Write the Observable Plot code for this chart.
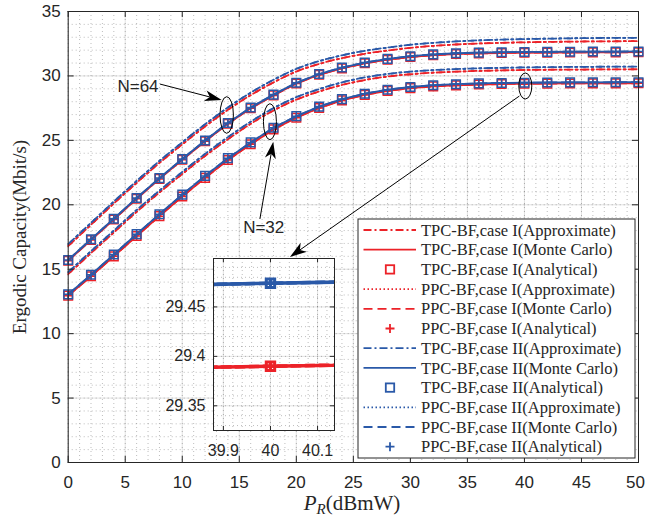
<!DOCTYPE html>
<html><head><meta charset="utf-8">
<script src="https://cdn.jsdelivr.net/npm/d3@7"></script>
<script src="https://cdn.jsdelivr.net/npm/@observablehq/plot@0.6"></script>
<style>
html,body{margin:0;padding:0;background:#fff;}
#chart{position:relative;width:645px;height:519px;}
#chart svg{overflow:visible;}
</style></head><body><div id="chart"></div>
<script>
// ---------------- data ----------------
const P_R = [0,2,4,6,8,10,12,14,16,18,20,22,24,26,28,30,32,34,36,38,40,42,44,46,48,50];

// N = 64, Monte Carlo / analytical
const mc64_caseII = [15.72,17.33,18.92,20.53,22.07,23.55,24.99,26.35,27.55,28.55,29.47,30.15,30.65,31.04,31.32,31.53,31.67,31.76,31.81,31.84,31.86,31.87,31.88,31.89,31.89,31.90];
const mc64_caseI  = [15.66,17.27,18.86,20.47,22.01,23.49,24.93,26.29,27.49,28.49,29.41,30.09,30.59,30.98,31.26,31.47,31.61,31.70,31.75,31.78,31.80,31.81,31.82,31.83,31.83,31.84];
// N = 32, Monte Carlo / analytical
const mc32_caseII = [13.05,14.57,16.14,17.72,19.27,20.79,22.24,23.62,24.84,25.98,26.88,27.62,28.20,28.62,28.93,29.14,29.28,29.36,29.42,29.455,29.474,29.49,29.50,29.505,29.51,29.515];
const mc32_caseI  = [12.95,14.45,16.00,17.58,19.12,20.64,22.09,23.47,24.70,25.85,26.76,27.51,28.10,28.53,28.84,29.05,29.19,29.27,29.33,29.374,29.39,29.406,29.415,29.42,29.425,29.43];
// approximations
const ap64_caseII = [16.95,18.60,20.25,21.85,23.40,24.85,26.25,27.55,28.70,29.70,30.55,31.15,31.60,31.95,32.20,32.42,32.57,32.68,32.76,32.82,32.86,32.89,32.92,32.94,32.95,32.96];
const ap64_caseI  = [16.80,18.45,20.10,21.70,23.25,24.69,26.08,27.37,28.51,29.50,30.34,30.93,31.38,31.72,31.97,32.18,32.33,32.44,32.52,32.57,32.61,32.64,32.66,32.68,32.69,32.70];
const ap32_caseII = [14.77,16.40,18.00,19.60,21.10,22.55,23.95,25.25,26.45,27.50,28.35,28.98,29.50,29.88,30.15,30.33,30.45,30.53,30.59,30.63,30.66,30.68,30.70,30.71,30.72,30.73];
const ap32_caseI  = [14.62,16.25,17.85,19.45,20.95,22.39,23.79,25.08,26.28,27.32,28.16,28.79,29.30,29.68,29.95,30.13,30.25,30.33,30.39,30.43,30.46,30.48,30.49,30.50,30.51,30.52];

const legendLabels = [
  "TPC-BF,case I(Approximate)","TPC-BF,case I(Monte Carlo)","TPC-BF,case I(Analytical)",
  "PPC-BF,case I(Approximate)","PPC-BF,case I(Monte Carlo)","PPC-BF,case I(Analytical)",
  "TPC-BF,case II(Approximate)","TPC-BF,case II(Monte Carlo)","TPC-BF,case II(Analytical)",
  "PPC-BF,case II(Approximate)","PPC-BF,case II(Monte Carlo)","PPC-BF,case II(Analytical)"
];
const xTicks = [0,5,10,15,20,25,30,35,40,45,50];
const yTicks = [0,5,10,15,20,25,30,35];
const xMinor = [0,1,2,3,4,5,6,7,8,9,10,11,12,13,14,15,16,17,18,19,20,21,22,23,24,25,26,27,28,29,30,31,32,33,34,35,36,37,38,39,40,41,42,43,44,45,46,47,48,49,50];
const yMinor = [0,1,2,3,4,5,6,7,8,9,10,11,12,13,14,15,16,17,18,19,20,21,22,23,24,25,26,27,28,29,30,31,32,33,34,35];
const insetXTicks = [39.9,40,40.1];
const insetYTicks = [29.35,29.4,29.45];
const insetXMinor = [39.88,39.9,39.92,39.94,39.96,39.98,40,40.02,40.04,40.06,40.08,40.1,40.12];
const insetYMinor = [29.33,29.34,29.35,29.36,29.37,29.38,29.39,29.4,29.41,29.42,29.43,29.44,29.45,29.46,29.47,29.48,29.49];
const xLabelText = ["P","R","(dBmW)"];
const yLabelText = "Ergodic Capacity(Mbit/s)";
const noteLabels = [{text:"N=64", x:6.12, y:29.18},{text:"N=32", x:17.14, y:18.24}];
const noteEllipses = [{x:13.94,y:26.93,rx:6.7,ry:18.3},{x:17.73,y:26.41,rx:6.5,ry:18},{x:40.12,y:29.18,rx:6.5,ry:13}];
const noteArrows = [{x1:8.09,y1:29.33,x2:13.5,y2:28.09},{x1:16.85,y1:18.86,x2:18.02,y2:24.86},{x1:39.6,y1:28.4,x2:19.48,y2:15.91}];

// ---------------- styles ----------------
const RED = "#ec2228", BLUE = "#2a59a8", INK = "#262626";
const DASHDOT = "8,3,2,3", DOTTED_PLOT = "2,6,2,6", DOTTED_LEGEND = "1.5,2.5", DASHED = "9,5";
const SANS = "'Liberation Sans', Arial, Helvetica, sans-serif";
const SERIF = "'Liberation Serif', 'Times New Roman', serif";

const SQ = {draw(ctx, size){ const r = Math.sqrt(size/Math.PI); ctx.moveTo(-r,-r); ctx.lineTo(r,-r); ctx.lineTo(r,r); ctx.lineTo(-r,r); ctx.closePath(); }};
const PLUS = {draw(ctx, size){ const r = Math.sqrt(size/Math.PI); ctx.moveTo(-r,0); ctx.lineTo(r,0); ctx.moveTo(0,-r); ctx.lineTo(0,r); }};

const series = [
  {color:RED, type:"line", dash:DASHDOT, smooth:true, curves:[ap64_caseI, ap32_caseI]},
  {color:RED, type:"line", dash:null, curves:[mc64_caseI, mc32_caseI]},
  {color:RED, type:"square", curves:[mc64_caseI, mc32_caseI]},
  {color:RED, type:"line", dash:DOTTED_PLOT, legendDash:DOTTED_LEGEND, offset:-3, smooth:true, curves:[ap64_caseI, ap32_caseI]},
  {color:RED, type:"line", dash:DASHED, curves:[mc64_caseI, mc32_caseI]},
  {color:RED, type:"plus", curves:[mc64_caseI, mc32_caseI]},
  {color:BLUE, type:"line", dash:DASHDOT, smooth:true, curves:[ap64_caseII, ap32_caseII]},
  {color:BLUE, type:"line", dash:null, curves:[mc64_caseII, mc32_caseII]},
  {color:BLUE, type:"square", curves:[mc64_caseII, mc32_caseII]},
  {color:BLUE, type:"line", dash:DOTTED_PLOT, legendDash:DOTTED_LEGEND, offset:-3, smooth:true, curves:[ap64_caseII, ap32_caseII]},
  {color:BLUE, type:"line", dash:DASHED, curves:[mc64_caseII, mc32_caseII]},
  {color:BLUE, type:"plus", curves:[mc64_caseII, mc32_caseII]}
].map((s,i)=>({...s, label: legendLabels[i]}));

function seriesMarks(s, o){
  const out = [];
  for (const ys of s.curves){
    const rows = P_R.map((x,i)=>({x, y: ys[i]}));
    if (s.type === "line"){
      out.push(Plot.line(rows, {x:"x", y:"y", stroke:s.color, strokeWidth:o.lw,
        strokeDasharray:s.dash || undefined, strokeDashoffset: s.offset || undefined,
        curve: s.smooth ? "monotone-x" : "linear", clip:o.clip}));
    } else {
      out.push(Plot.dot(rows, {x:"x", y:"y", r:o.r, symbol: s.type === "square" ? SQ : PLUS,
        stroke:s.color, strokeWidth:o.msw, fill:"none", clip:o.clip}));
    }
  }
  return out;
}

// ---------------- main plot ----------------
const W = 645, H = 519, mL = 67.7, mR = 7, mT = 11, mB = 57;
const innerW = W - mL - mR, innerH = H - mT - mB;

const main = Plot.plot({
  width: W, height: H, marginLeft: mL, marginRight: mR, marginTop: mT, marginBottom: mB,
  x: {domain:[0,50]}, y: {domain:[0,35]},
  style: {fontFamily: SANS, fontSize: "17px", color: INK, background: "white", overflow: "visible"},
  marks: [
    Plot.gridX({ticks:xMinor, stroke:INK, strokeOpacity:0.3, strokeDasharray:"1,3"}),
    Plot.gridY({ticks:yMinor, stroke:INK, strokeOpacity:0.3, strokeDasharray:"1,3"}),
    Plot.gridX({ticks:xTicks, stroke:INK, strokeOpacity:0.13}),
    Plot.gridY({ticks:yTicks, stroke:INK, strokeOpacity:0.13}),
    ...series.flatMap(s => seriesMarks(s, {lw:1.8, r:4.3, msw:1.5, clip:false})),
    Plot.tickX(xTicks, {x:d=>d, stroke:INK, insetTop: innerH - 6}),
    Plot.tickX(xTicks, {x:d=>d, stroke:INK, insetBottom: innerH - 6}),
    Plot.tickY(yTicks, {y:d=>d, stroke:INK, insetRight: innerW - 6}),
    Plot.tickY(yTicks, {y:d=>d, stroke:INK, insetLeft: innerW - 6}),
    Plot.frame({stroke:INK, strokeWidth:1}),
    Plot.axisX({ticks:xTicks.slice(0, -1), tickSize:0, tickPadding:13, fontSize:17, label:null, tickFormat:d=>String(d)}),
    Plot.axisX({ticks:xTicks.slice(-1), tickSize:0, tickPadding:13, fontSize:17, label:null, dx:-3, tickFormat:d=>String(d)}),
    Plot.axisY({ticks:yTicks, tickSize:0, tickPadding:7.5, fontSize:17, label:null, tickFormat:d=>String(d)}),
    Plot.text(noteLabels, {x:"x", y:"y", text:"text", fontSize:17, fill:INK})
  ]
});
document.getElementById("chart").appendChild(main);
const sx = main.scale("x"), sy = main.scale("y");
const svg = d3.select(main);

// ---------------- inset ----------------
const insL = 50, insT = 2, insR = 2, insB = 32, insW = 121, insH = 172;
const inset = Plot.plot({
  width: insL + insW + insR, height: insT + insH + insB,
  marginLeft: insL, marginRight: insR, marginTop: insT, marginBottom: insB,
  x: {domain:[39.879, 40.136]}, y: {domain:[29.325, 29.499]},
  style: {fontFamily: SANS, fontSize: "16px", color: INK, background: "none", overflow: "visible"},
  marks: [
    Plot.frame({fill:"white", stroke:"none"}),
    Plot.gridX({ticks:insetXMinor, stroke:INK, strokeOpacity:0.3, strokeDasharray:"1,3"}),
    Plot.gridY({ticks:insetYMinor, stroke:INK, strokeOpacity:0.3, strokeDasharray:"1,3"}),
    Plot.gridX({ticks:insetXTicks, stroke:INK, strokeOpacity:0.13}),
    Plot.gridY({ticks:insetYTicks, stroke:INK, strokeOpacity:0.13}),
    ...series.flatMap(s => seriesMarks(s, {lw:3.6, r:4.2, msw:3, clip:true})),
    Plot.tickX(insetXTicks, {x:d=>d, stroke:INK, insetTop: insH - 4}),
    Plot.tickX(insetXTicks, {x:d=>d, stroke:INK, insetBottom: insH - 4}),
    Plot.tickY(insetYTicks, {y:d=>d, stroke:INK, insetRight: insW - 4}),
    Plot.tickY(insetYTicks, {y:d=>d, stroke:INK, insetLeft: insW - 4}),
    Plot.frame({stroke:INK, strokeWidth:1}),
    Plot.axisX({ticks:insetXTicks, tickSize:0, tickPadding:14, fontSize:16, label:null, tickFormat:d=>String(d)}),
    Plot.axisY({ticks:insetYTicks, tickSize:0, tickPadding:8, fontSize:16, label:null, tickFormat:d=>String(d)})
  ]
});
inset.setAttribute("x", 213 - insL);
inset.setAttribute("y", 258 - insT);
inset.style.height = (insT + insH + insB) + "px";
inset.style.width = (insL + insW + insR) + "px";
inset.style.maxWidth = "none";
inset.style.display = "inline";
main.appendChild(inset);

// ---------------- annotations ----------------
const ann = svg.append("g");
for (const e of noteEllipses){
  ann.append("ellipse").attr("cx", sx.apply(e.x)).attr("cy", sy.apply(e.y))
    .attr("rx", e.rx).attr("ry", e.ry).attr("fill","none").attr("stroke","#000").attr("stroke-width",1);
}
function arrow(a, headLen=17, headW=5.5){
  const x1 = sx.apply(a.x1), y1 = sy.apply(a.y1), x2 = sx.apply(a.x2), y2 = sy.apply(a.y2);
  const dx = x2-x1, dy = y2-y1, L = Math.hypot(dx,dy), ux = dx/L, uy = dy/L, px = -uy, py = ux;
  const bx = x2 - ux*headLen, by = y2 - uy*headLen;
  const nx = x2 - ux*headLen*0.72, ny = y2 - uy*headLen*0.72;
  ann.append("line").attr("x1",x1).attr("y1",y1).attr("x2",nx).attr("y2",ny).attr("stroke","#000").attr("stroke-width",1);
  ann.append("path").attr("d", `M${x2},${y2}L${bx+px*headW},${by+py*headW}L${nx},${ny}L${bx-px*headW},${by-py*headW}Z`).attr("fill","#000");
}
noteArrows.forEach(a => arrow(a));

// axis titles
svg.append("text").attr("transform", "translate(19,237) rotate(-90)").attr("text-anchor","middle")
  .attr("dominant-baseline","central").style("font-family", SERIF).style("font-size","19px").attr("fill", INK).text(yLabelText);
const xl = svg.append("text").attr("x", 352).attr("y", 510).attr("text-anchor","middle")
  .style("font-family", SERIF).style("font-size","21px").attr("fill", INK);
xl.append("tspan").style("font-style","italic").text(xLabelText[0]);
xl.append("tspan").style("font-style","italic").style("font-size","15px").attr("dy", 4).text(xLabelText[1]);
xl.append("tspan").attr("dy", -4).text(xLabelText[2]);

// ---------------- legend ----------------
const lg = svg.append("g");
const LX0 = 358, LX1 = 635, LY0 = 219, LY1 = 458, rowY0 = 230, rowDY = 19.7;
lg.append("rect").attr("x", LX0).attr("y", LY0).attr("width", LX1-LX0).attr("height", LY1-LY0)
  .attr("fill","white").attr("stroke", INK).attr("stroke-width", 1);
series.forEach((s, i) => {
  const y = rowY0 + i*rowDY;
  if (s.type === "line"){
    lg.append("line").attr("x1", 363.5).attr("x2", 416).attr("y1", y).attr("y2", y)
      .attr("stroke", s.color).attr("stroke-width", 1.8).attr("stroke-dasharray", s.legendDash || s.dash || null);
  } else if (s.type === "square"){
    lg.append("rect").attr("x", 390-4.2).attr("y", y-4.2).attr("width", 8.4).attr("height", 8.4)
      .attr("fill","none").attr("stroke", s.color).attr("stroke-width", 1.8);
  } else {
    lg.append("path").attr("d", `M${390-4.5},${y}H${390+4.5}M390,${y-4.5}V${y+4.5}`)
      .attr("fill","none").attr("stroke", s.color).attr("stroke-width", 1.8);
  }
  lg.append("text").attr("x", 421).attr("y", y).attr("dy","0.34em").attr("text-anchor","start")
    .style("font-family", SERIF).style("font-size","16.5px").attr("fill", INK).text(s.label);
});
</script></body></html>
